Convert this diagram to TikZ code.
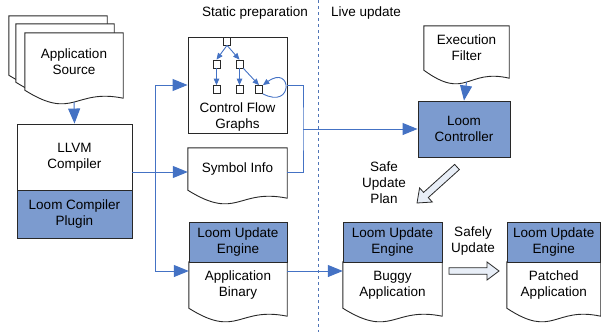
\documentclass[tikz,border=0pt]{standalone}
\usepackage{fontspec}
\setmainfont{Liberation Sans}
\usetikzlibrary{arrows.meta,calc}
\pgfdeclarelayer{bg}
\pgfsetlayers{bg,main}
\definecolor{hdr}{RGB}{124,155,207}
\definecolor{ln}{RGB}{68,114,196}
\definecolor{bd}{RGB}{40,40,40}
\definecolor{hol}{RGB}{232,238,247}
% document outline (wavy bottom) drawn around a named node
\newcommand\docoutline[1]{%
  \begin{pgfonlayer}{bg}
  \draw[docline] (#1.north west) -- (#1.north east) -- ([yshift=-8pt]#1.south east)
    .. controls ([yshift=2pt]#1.south) and ([yshift=-31pt]#1.south) .. (#1.south west) -- cycle;
  \end{pgfonlayer}}
\begin{document}
\begin{tikzpicture}[x=1pt,y=-1pt,
  font=\fontsize{13.5}{16}\selectfont,
  every node/.style={inner sep=0pt, align=center},
  plain/.style={draw=bd, line width=0.9pt},
  hdrbox/.style={plain, fill=hdr},
  docline/.style={draw=bd, line width=0.9pt, fill=white},
  conn/.style={draw=ln, line width=1pt, -{Triangle[length=15pt,width=12pt]}},
  wire/.style={draw=ln, line width=1pt},
  mini/.style={draw=ln, line width=0.9pt, -{Triangle[length=6.5pt,width=5.5pt]}},
  sq/.style={draw=bd, line width=0.7pt, fill=white, minimum width=7pt, minimum height=8pt},
  hollow/.style={draw=bd, line width=0.8pt, fill=hol},
  divider/.style={draw=ln!80!gray, line width=0.8pt, dash pattern=on 3pt off 3pt}]
\useasboundingbox (0,0) rectangle (601,332);

% titles and divider
\node (tstat) at (255,13) {Static preparation};
\node (tlive) at (366,13) {Live update};
\draw[divider] (318,0) -- (318,332);

% application source (stack of documents)
\node[minimum width=98pt, minimum height=59pt] (src3) at (58,45.5) {};
\node[minimum width=98pt, minimum height=58pt] (src2) at (65,53) {};
\node[minimum width=98pt, minimum height=57pt] (src) at (74,61.5) {\raisebox{-2pt}{\shortstack{Application\\[1pt]Source}}};
\docoutline{src3}\docoutline{src2}\docoutline{src}

% compiler
\node[plain, minimum width=115pt, minimum height=66pt] (llvm) at (74.5,157) {LLVM\\Compiler};
\node[hdrbox, minimum width=115pt, minimum height=48pt] (plug) at (74.5,214) {Loom Compiler\\Plugin};

% control flow graphs
\node[plain, minimum width=99pt, minimum height=96pt] (cfg) at (237.5,85) {};
\node (cfgl) at (237.5,117.5) {Control Flow\\Graphs};
\node[sq] (c1) at (227,41) {};
\node[sq] (c2) at (216.5,64) {};
\node[sq] (c3) at (239.5,64) {};
\node[sq] (c4) at (216.5,89.5) {};
\node[sq] (c5) at (239.5,89.5) {};
\node[sq] (c6) at (259,89.5) {};
\draw[mini] (c1.south) -- (c2.north);
\draw[mini] (c1.south) -- (c3.north);
\draw[mini] (c2.south) -- (c4.north);
\draw[mini] (c3.south) -- (c5.north);
\draw[mini] (c3.south east) -- (c6.north);
\draw[mini] (c6.south east) .. controls (294,110) and (292,64) .. (c6.north east);

% symbol info
\node[minimum width=99pt, minimum height=42pt] (sym) at (237.5,169) {Symbol Info};
\docoutline{sym}

% execution filter and controller
\node[minimum width=85pt, minimum height=44pt] (filt) at (466.5,48) {Execution\\Filter};
\docoutline{filt}
\node[hdrbox, minimum width=92pt, minimum height=56pt] (ctrl) at (464,129) {Loom\\Controller};

% bottom row documents
\node[hdrbox, minimum width=98pt, minimum height=40pt] (binh) at (238,242) {Loom Update\\Engine};
\node[minimum width=98pt, minimum height=46pt] (bin) at (238,285) {Application\\Binary};
\docoutline{bin}
\node[hdrbox, minimum width=99pt, minimum height=40pt] (bugh) at (392.5,242) {Loom Update\\Engine};
\node[minimum width=99pt, minimum height=46pt] (bug) at (392.5,285) {Buggy\\Application};
\docoutline{bug}
\node[hdrbox, minimum width=93.5pt, minimum height=40pt] (path) at (553.75,242) {Loom Update\\Engine};
\node[minimum width=93.5pt, minimum height=46pt] (pat) at (553.75,285) {Patched\\Application};
\docoutline{pat}

% labels
\node (lplan) at (384,183) {Safe\\Update\\Plan};
\node (lsafe) at (473,241) {Safely\\Update};

% connectors
\coordinate (j1) at (155,172);
\coordinate (j2) at (155,271);
\coordinate (j3) at (303,129);
\draw[conn] ([yshift=-12pt]src.south) -- (llvm.north);
\draw[conn] (llvm.east |- j1) -- (sym.west |- j1);
\draw[conn] (j1) |- (cfg.west);
\draw[conn] (j1) -- (j2) -- (bin.west |- j2);
\draw[wire] (cfg.east) -| (j3) |- (sym.east |- j1);
\draw[conn] (j3) -- (ctrl.west |- j3);
\draw[conn] ([yshift=-12pt]filt.south) -- (ctrl.north);
\draw[conn] (bin.east |- j2) -- (bug.west |- j2);

% hollow arrows
\begin{scope}[shift={(457,167)}, rotate=222]
  \draw[hollow] (0,-3.5) -- (41.8,-3.5) -- (41.8,-9.5) -- (53.8,0) -- (41.8,9.5) -- (41.8,3.5) -- (0,3.5) -- cycle;
\end{scope}
\begin{scope}[shift={(449,271)}]
  \draw[hollow] (0,-3.3) -- (38,-3.3) -- (38,-9) -- (50,0) -- (38,9) -- (38,3.3) -- (0,3.3) -- cycle;
\end{scope}
\end{tikzpicture}
\end{document}
